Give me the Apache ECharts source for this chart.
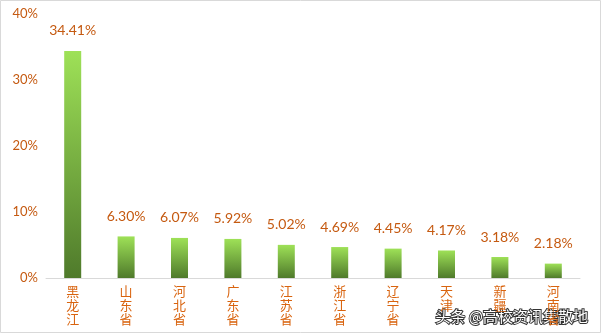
<!DOCTYPE html>
<html><head><meta charset="utf-8">
<script src="https://cdn.jsdelivr.net/npm/echarts@6/dist/echarts.min.js"></script>
<style>html,body{margin:0;padding:0;background:#fff}#c{width:601px;height:333px}</style>
</head><body><div id="c"></div>
<script>
const categories = ['黑龙江','山东省','河北省','广东省','江苏省','浙江省','辽宁省','天津','新疆','河南省'];
const values = [34.41, 6.30, 6.07, 5.92, 5.02, 4.69, 4.45, 4.17, 3.18, 2.18];
const yTicks = [0, 10, 20, 30, 40];

const chart = echarts.init(document.getElementById('c'));
chart.setOption({
  animation: false,
  backgroundColor: '#fff',
  graphic: [
    {type:'rect', shape:{x:0.5,y:0.5,width:600,height:332}, style:{fill:'none', stroke:'#D9D9D9', lineWidth:1}},
    {type:'text', right: 12, bottom: 8, style:{text:'头条 @高校资讯集散地', font:'15px "Noto Sans CJK SC"', fill:'#fff', stroke:'#333', lineWidth:2}}
  ],
  grid: {left: 46, right: 21, top: 14, bottom: 55, containLabel: false},
  xAxis: {
    type: 'category', data: categories,
    axisLine: {lineStyle: {color: '#D9D9D9', width: 1}},
    axisTick: {show: false},
    axisLabel: {
      interval: 0, margin: 6, color: '#D9640F',
      fontFamily: '"Noto Sans CJK SC"', fontSize: 13, lineHeight: 14,
      formatter: v => v.split('').join('\n')
    }
  },
  yAxis: {
    type: 'value', min: yTicks[0], max: yTicks[yTicks.length-1], interval: 10,
    axisLine: {show: false}, axisTick: {show: false}, splitLine: {show: false},
    axisLabel: {formatter: v => v + '%', color: '#C55A11', fontFamily: 'Lato', fontSize: 13, margin: 8}
  },
  series: [{
    type: 'bar', data: values, barWidth: 17,
    itemStyle: {color: new echarts.graphic.LinearGradient(0,0,0,1,[{offset:0,color:'#9EE157'},{offset:1,color:'#4F7A2B'}])},
    label: {show: true, position: 'top', distance: 13, formatter: p => p.value.toFixed(2) + '%', color: '#C55A11', fontFamily: 'Lato', fontSize: 14}
  }]
});
</script></body></html>
